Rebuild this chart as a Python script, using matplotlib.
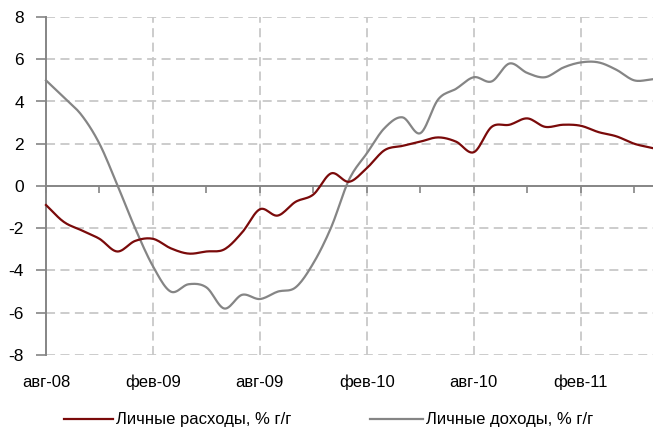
import numpy as np
import matplotlib
matplotlib.use("Agg")
import matplotlib.pyplot as plt
from matplotlib.lines import Line2D
from matplotlib import font_manager

# Monthly series, Aug-2008 .. Jun-2011, % y/y
months = list(range(35))
spending = [-0.9, -1.7, -2.1, -2.5, -3.1, -2.6, -2.5, -2.95, -3.2, -3.1,
            -3.0, -2.2, -1.1, -1.4, -0.75, -0.4, 0.6, 0.2, 0.85, 1.7,
            1.9, 2.1, 2.3, 2.1, 1.6, 2.8, 2.9, 3.2, 2.8, 2.9,
            2.85, 2.55, 2.35, 2.0, 1.8]
income = [5.0, 4.2, 3.35, 2.0, 0.05, -2.0, -3.8, -5.0, -4.65, -4.8,
          -5.8, -5.15, -5.35, -5.0, -4.8, -3.65, -1.95, 0.3, 1.55, 2.75,
          3.25, 2.5, 4.1, 4.6, 5.15, 4.95, 5.8, 5.35, 5.15, 5.6,
          5.85, 5.85, 5.5, 5.0, 5.05]
tick_labels = ["авг-08", "фев-09", "авг-09", "фев-10", "авг-10", "фев-11"]
series_names = ["Личные расходы, % г/г", "Личные доходы, % г/г"]

names = {f.name for f in font_manager.fontManager.ttflist}
family = "Liberation Sans Narrow" if "Liberation Sans Narrow" in names else "Liberation Sans"
plt.rcParams["font.family"] = [family, "DejaVu Sans"]


def smooth(x, y, n=12):
    """Catmull-Rom smoothing through the monthly points."""
    x = np.asarray(x, float)
    y = np.asarray(y, float)
    px = np.concatenate([[2 * x[0] - x[1]], x, [2 * x[-1] - x[-2]]])
    py = np.concatenate([[2 * y[0] - y[1]], y, [2 * y[-1] - y[-2]]])
    t = np.linspace(0, 1, n, endpoint=False)
    xs, ys = [], []
    for i in range(1, len(px) - 2):
        for arr, out in ((px, xs), (py, ys)):
            p0, p1, p2, p3 = arr[i - 1], arr[i], arr[i + 1], arr[i + 2]
            out.extend(0.5 * ((2 * p1) + (-p0 + p2) * t
                              + (2 * p0 - 5 * p1 + 4 * p2 - p3) * t ** 2
                              + (-p0 + 3 * p1 - 3 * p2 + p3) * t ** 3))
    xs.append(x[-1])
    ys.append(y[-1])
    return np.array(xs), np.array(ys)


W, H = 653, 436
fig = plt.figure(figsize=(W / 100, H / 100), dpi=100)
ax = fig.add_axes([46 / W, (H - 355) / H, (W - 46) / W, (355 - 17) / H])

red = "#7a0a0a"
grey = "#858585"
grid_c = "#c8c8c8"

ax.set_xlim(0, 34.05)
ax.set_ylim(-8, 8)

# dashed grid
for yv in range(-8, 9, 2):
    if yv != 0:
        ax.axhline(yv, color=grid_c, lw=1.3, dashes=(5, 3), zorder=1)
for xv in range(6, 35, 6):
    ax.axvline(xv, color=grid_c, lw=1.3, dashes=(5, 3), zorder=1)

sx, sy = smooth(months, spending)
ix, iy = smooth(months, income)
ax.plot(ix, iy, color=grey, lw=1.6, zorder=3, clip_on=False)
ax.plot(sx, sy, color=red, lw=1.6, zorder=4, clip_on=False)

for s in ("top", "right"):
    ax.spines[s].set_visible(False)
ax.spines["left"].set_color(grey)
ax.spines["left"].set_linewidth(1.4)
ax.spines["bottom"].set_position(("data", 0))
ax.spines["bottom"].set_color(grey)
ax.spines["bottom"].set_linewidth(1.4)

ax.set_yticks(range(-8, 9, 2))
ax.set_yticklabels([str(v) for v in range(-8, 9, 2)], fontsize=12.5)
ax.tick_params(axis="y", length=7, width=1.2, color=grey, pad=9)
ax.set_xticks(range(0, 35, 3))
ax.set_xticklabels([])
ax.tick_params(axis="x", length=5, width=1.2, color=grey, direction="out")

for i, lab in enumerate(tick_labels):
    ax.annotate(lab, xy=(i * 6, 0), xycoords=ax.get_xaxis_transform(),
                xytext=(0, -27), textcoords="offset pixels",
                ha="center", va="center", fontsize=12)

# legend along the bottom
def px(x, y):
    return x / W, (H - y) / H

for (x0, x1, tx), col, name in zip([(64, 113, 116), (370, 423, 426)],
                                    [red, grey], series_names):
    a, b = px(x0, 419)
    c, _ = px(x1, 419)
    fig.add_artist(Line2D([a, c], [b, b], color=col, lw=1.6,
                          transform=fig.transFigure))
    t, _ = px(tx, 419)
    fig.text(t, b, name, ha="left", va="center", fontsize=12)

fig.savefig("out.png", dpi=100)
